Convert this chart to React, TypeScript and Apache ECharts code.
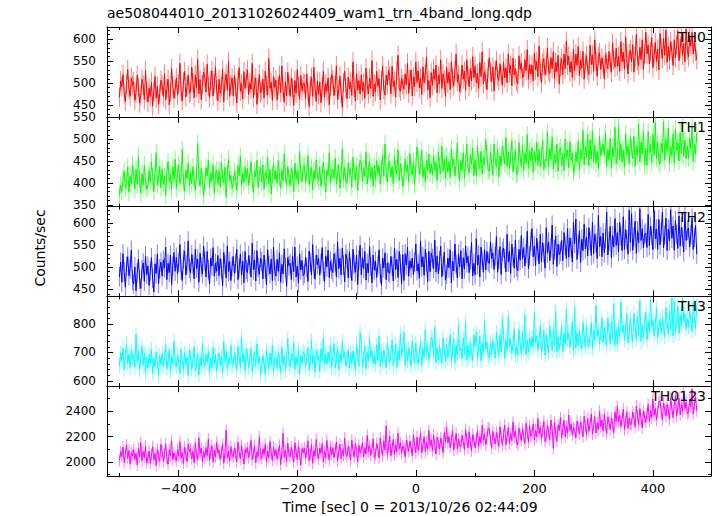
import React, { useEffect, useRef } from 'react';
import * as echarts from 'echarts';

const TITLE = 'ae508044010_20131026024409_wam1_trn_4band_long.qdp';
const X_LABEL = 'Time [sec] 0 = 2013/10/26 02:44:09';
const Y_LABEL = 'Counts/sec';
const panelNames = ['TH0', 'TH1', 'TH2', 'TH3', 'TH0123'];

// time bins (start and width, seconds)
const BIN_START = -500;
const BIN_WIDTH = 2;
const X_MIN = -521;
const X_MAX = 498;
const X_MAJOR = 200;
const X_MINOR = 100;

const th0 = [
  468, 505, 492, 520, 476, 459, 498, 531, 487, 470, 512, 495,
  503, 461, 479, 518, 490, 455, 472, 509, 496, 463, 528, 481,
  457, 489, 470, 502, 448, 481, 515, 466, 493, 452, 476, 507,
  496, 470, 521, 462, 488, 509, 451, 479, 533, 494, 466, 486,
  512, 473, 498, 545, 481, 460, 503, 527, 469, 492, 518, 477,
  482, 536, 501, 467, 519, 490, 554, 476, 508, 463, 497, 525,
  514, 480, 543, 493, 468, 506, 528, 471, 499, 537, 485, 460,
  509, 477, 492, 531, 458, 503, 520, 484, 549, 470, 496, 512,
  471, 518, 490, 455, 507, 535, 482, 499, 464, 526, 488, 511,
  530, 474, 501, 486, 545, 467, 495, 512, 452, 489, 520, 478,
  483, 509, 466, 527, 495, 473, 556, 488, 502, 461, 515, 490,
  507, 462, 494, 518, 479, 539, 485, 457, 503, 471, 525, 496,
  470, 512, 489, 450, 506, 477, 531, 492, 464, 517, 483, 500,
  499, 465, 521, 481, 447, 494, 513, 470, 536, 488, 459, 505,
  474, 503, 456, 490, 527, 468, 499, 482, 512, 451, 493, 520,
  508, 472, 495, 539, 463, 485, 516, 478, 445, 501, 527, 489,
  465, 514, 487, 503, 472, 548, 491, 460, 522, 484, 506, 475,
  519, 482, 501, 466, 534, 495, 476, 512, 488, 551, 470, 498,
  481, 527, 493, 510, 462, 505, 539, 486, 473, 518, 497, 530,
  515, 476, 538, 492, 505, 468, 527, 563, 490, 482, 511, 497,
  486, 521, 497, 545, 477, 509, 530, 471, 514, 492, 548, 502,
  528, 489, 512, 474, 537, 501, 520, 559, 485, 506, 467, 524,
  495, 532, 508, 541, 478, 517, 499, 553, 488, 521, 506, 470,
  536, 500, 525, 485, 548, 511, 494, 529, 566, 503, 519, 481,
  498, 541, 509, 527, 484, 553, 517, 492, 533, 505, 560, 512,
  539, 501, 522, 488, 547, 515, 571, 498, 526, 510, 485, 532,
  558, 525, 503, 537, 482, 529, 551, 514, 506, 544, 517, 496,
  548, 512, 535, 501, 566, 523, 540, 494, 557, 519, 533, 505,
  499, 562, 531, 546, 512, 515, 553, 528, 576, 509, 542, 521,
  541, 505, 568, 530, 549, 515, 584, 527, 501, 545, 556, 519,
  539, 580, 528, 522, 558, 533, 571, 510, 547, 526, 563, 498,
  538, 555, 519, 566, 532, 595, 541, 561, 525, 549, 513, 577,
  528, 566, 540, 583, 517, 551, 534, 572, 509, 545, 562, 530,
  520, 586, 542, 564, 527, 598, 549, 515, 560, 569, 531, 557,
  541, 509, 566, 548, 533, 572, 546, 525, 590, 552, 536, 579,
  538, 561, 527, 594, 549, 570, 532, 605, 556, 521, 567, 575,
  548, 587, 525, 560, 610, 551, 540, 581, 553, 598, 531, 566,
  615, 566, 586, 544, 571, 603, 535, 563, 592, 549, 577, 530,
  612, 578, 555, 601, 563, 620, 547, 583, 552, 594, 571, 540,
  598, 557, 585, 618, 551, 579, 607, 563, 590, 548, 622, 575,
  560, 603, 584, 615, 566, 594, 572, 553,
];

const th1 = [
  372, 395, 381, 410, 426, 388, 402, 437, 379, 415, 398, 443,
  418, 386, 431, 397, 460, 409, 377, 422, 395, 441, 403, 386,
  393, 427, 401, 448, 415, 380, 423, 469, 396, 412, 438, 389,
  431, 397, 415, 372, 426, 449, 403, 419, 385, 437, 408, 454,
  387, 421, 442, 399, 413, 476, 402, 381, 429, 410, 446, 394,
  425, 398, 437, 409, 383, 420, 490, 415, 392, 433, 406, 370,
  401, 435, 416, 452, 389, 423, 404, 441, 377, 418, 430, 396,
  429, 391, 447, 412, 400, 436, 368, 421, 455, 405, 417, 388,
  398, 426, 409, 382, 440, 416, 461, 393, 422, 401, 437, 411,
  433, 395, 420, 449, 403, 378, 428, 414, 452, 390, 419, 436,
  402, 441, 386, 423, 410, 458, 397, 431, 375, 417, 444, 408,
  427, 399, 451, 413, 388, 430, 405, 466, 419, 394, 437, 412,
  394, 433, 417, 380, 445, 408, 427, 398, 472, 421, 403, 439,
  440, 401, 423, 462, 396, 418, 435, 384, 428, 409, 453, 415,
  405, 437, 392, 421, 448, 412, 379, 430, 416, 469, 400, 426,
  432, 410, 456, 397, 424, 441, 388, 419, 477, 408, 435, 402,
  399, 446, 418, 431, 390, 459, 425, 407, 438, 383, 428, 452,
  445, 404, 433, 416, 471, 398, 427, 449, 410, 436, 392, 440,
  408, 451, 421, 440, 397, 432, 463, 415, 489, 423, 402, 446,
  450, 413, 437, 398, 461, 429, 420, 476, 406, 443, 426, 392,
  414, 455, 426, 441, 401, 468, 432, 418, 449, 395, 437, 482,
  458, 419, 439, 475, 412, 436, 403, 452, 428, 466, 421, 444,
  418, 462, 430, 447, 406, 471, 439, 421, 484, 427, 455, 410,
  461, 424, 449, 412, 478, 438, 455, 416, 443, 492, 430, 405,
  451, 430, 469, 411, 446, 488, 435, 423, 466, 441, 480, 417,
  453, 415, 484, 446, 432, 472, 420, 458, 441, 499, 467, 428,
  427, 470, 445, 418, 489, 451, 436, 478, 413, 462, 440, 483,
  466, 443, 504, 437, 471, 432, 458, 497, 425, 449, 477, 419,
  422, 492, 457, 439, 486, 428, 469, 445, 510, 433, 474, 450,
  481, 424, 471, 447, 493, 440, 476, 436, 462, 498, 430, 454,
  450, 516, 437, 479, 455, 505, 431, 466, 444, 489, 426, 473,
  481, 440, 468, 428, 500, 459, 475, 435, 494, 452, 468, 423,
  436, 471, 448, 496, 430, 477, 455, 520, 441, 484, 459, 511,
  440, 499, 455, 518, 448, 486, 445, 472, 433, 506, 462, 480,
  489, 463, 514, 438, 475, 452, 501, 434, 482, 459, 527, 444,
  459, 530, 452, 490, 447, 476, 437, 512, 465, 484, 443, 505,
  479, 456, 506, 437, 486, 462, 534, 448, 493, 466, 519, 441,
  480, 440, 517, 470, 488, 446, 511, 463, 538, 456, 494, 451,
  443, 491, 468, 540, 452, 499, 472, 525, 446, 484, 461, 512,
  445, 523, 473, 492, 450, 515, 468, 536, 461, 498, 455, 484,
  456, 502, 477, 528, 449, 488, 466, 514,
];

const th2 = [
  478, 512, 466, 531, 490, 455, 503, 524, 481, 497, 539, 470,
  462, 501, 447, 488, 519, 473, 452, 495, 510, 468, 526, 484,
  503, 459, 491, 522, 475, 444, 508, 486, 530, 463, 497, 512,
  480, 517, 499, 546, 472, 509, 488, 528, 461, 503, 534, 491,
  523, 485, 511, 552, 494, 470, 518, 537, 483, 506, 560, 497,
  488, 529, 507, 474, 541, 498, 519, 466, 532, 501, 485, 548,
  514, 478, 536, 495, 462, 521, 503, 545, 480, 509, 491, 527,
  481, 520, 497, 458, 534, 506, 476, 549, 490, 513, 470, 502,
  525, 486, 509, 541, 472, 498, 530, 482, 514, 465, 536, 495,
  488, 527, 505, 478, 555, 494, 517, 469, 538, 500, 484, 521,
  513, 474, 528, 496, 461, 540, 504, 485, 519, 470, 546, 492,
  480, 518, 491, 533, 466, 507, 485, 542, 499, 457, 522, 504,
  509, 472, 525, 490, 546, 478, 503, 464, 531, 494, 516, 481,
  486, 523, 500, 468, 537, 511, 483, 552, 497, 473, 528, 506,
  520, 482, 509, 545, 491, 468, 526, 501, 539, 477, 514, 496,
  488, 531, 512, 478, 558, 497, 521, 483, 544, 505, 467, 530,
  519, 476, 535, 498, 470, 541, 507, 489, 528, 461, 517, 550,
  483, 522, 497, 536, 471, 509, 488, 547, 502, 465, 528, 494,
  514, 477, 505, 540, 486, 459, 521, 499, 533, 472, 510, 490,
  486, 525, 502, 469, 544, 495, 518, 477, 536, 508, 463, 529,
  470, 531, 505, 546, 480, 515, 498, 521, 483, 512, 553, 492,
  508, 475, 559, 501, 524, 482, 541, 512, 468, 537, 490, 533,
  520, 497, 562, 489, 526, 485, 515, 548, 479, 503, 535, 471,
  484, 521, 499, 540, 465, 514, 492, 553, 507, 476, 530, 501,
  538, 474, 522, 496, 549, 510, 525, 488, 516, 557, 480, 509,
  483, 565, 505, 528, 478, 546, 517, 489, 540, 494, 536, 512,
  509, 558, 520, 533, 495, 525, 570, 489, 518, 547, 484, 536,
  544, 520, 490, 575, 512, 537, 486, 553, 524, 498, 562, 501,
  492, 541, 516, 572, 520, 545, 503, 531, 582, 497, 526, 560,
  588, 524, 549, 503, 566, 537, 508, 575, 512, 556, 533, 498,
  590, 532, 558, 515, 544, 596, 507, 540, 571, 502, 553, 529,
  536, 561, 515, 579, 549, 520, 588, 523, 567, 545, 512, 603,
  554, 610, 518, 551, 583, 511, 564, 538, 598, 542, 569, 526,
  590, 561, 527, 602, 531, 575, 556, 520, 618, 547, 570, 524,
  578, 533, 565, 625, 528, 559, 593, 521, 572, 546, 611, 550,
  579, 535, 602, 571, 538, 615, 541, 586, 563, 530, 630, 557,
  622, 539, 569, 605, 532, 583, 556, 633, 561, 588, 544, 575,
  578, 545, 620, 549, 593, 572, 540, 628, 565, 587, 541, 609,
  551, 580, 626, 545, 573, 612, 538, 587, 560, 631, 566, 594,
  539, 606, 575, 543, 617, 548, 591, 569, 535, 624, 561, 584,
  589, 546, 574, 612, 541, 568, 595, 530,
];

const th3 = [
  652, 698, 671, 715, 640, 683, 730, 661, 694, 647, 709, 676,
  690, 648, 764, 667, 705, 638, 681, 722, 655, 697, 630, 684,
  645, 693, 662, 711, 627, 679, 650, 702, 668, 619, 688, 657,
  697, 651, 682, 728, 642, 671, 709, 633, 686, 660, 741, 665,
  649, 690, 666, 625, 713, 672, 640, 699, 654, 684, 618, 707,
  688, 641, 674, 720, 636, 663, 698, 621, 681, 652, 733, 670,
  650, 695, 664, 706, 628, 680, 646, 718, 659, 691, 634, 676,
  697, 652, 686, 630, 739, 668, 704, 643, 681, 660, 725, 655,
  658, 701, 671, 639, 722, 684, 648, 756, 667, 693, 635, 712,
  692, 645, 679, 715, 631, 673, 701, 652, 730, 662, 686, 624,
  651, 689, 663, 622, 710, 676, 641, 698, 657, 726, 633, 680,
  686, 643, 702, 667, 628, 719, 656, 690, 637, 675, 748, 661,
  649, 694, 672, 735, 640, 683, 654, 711, 625, 688, 663, 703,
  696, 651, 681, 717, 638, 670, 743, 659, 692, 631, 708, 674,
  688, 633, 714, 672, 752, 660, 695, 656, 701, 668, 725, 647,
  690, 731, 644, 676, 718, 638, 697, 665, 740, 681, 702, 653,
  676, 710, 645, 699, 659, 705, 674, 638, 728, 690, 651, 771,
  737, 648, 682, 722, 642, 701, 670, 748, 684, 706, 660, 693,
  656, 727, 673, 758, 650, 703, 663, 709, 680, 645, 734, 694,
  664, 698, 745, 653, 689, 730, 647, 706, 675, 766, 690, 711,
  771, 655, 709, 669, 716, 684, 652, 741, 700, 661, 733, 678,
  660, 697, 738, 655, 715, 683, 779, 698, 719, 672, 706, 754,
  742, 686, 789, 664, 718, 675, 724, 690, 662, 752, 708, 668,
  728, 680, 713, 763, 669, 705, 748, 663, 724, 691, 797, 706,
  716, 677, 751, 694, 805, 673, 726, 684, 733, 699, 671, 762,
  722, 772, 678, 713, 757, 671, 733, 699, 812, 714, 737, 688,
  682, 735, 692, 742, 708, 680, 771, 726, 686, 761, 703, 819,
  768, 681, 744, 709, 826, 724, 747, 697, 732, 783, 688, 723,
  690, 782, 736, 696, 771, 713, 833, 692, 745, 702, 752, 718,
  755, 719, 840, 734, 758, 707, 743, 795, 698, 733, 779, 691,
  763, 728, 700, 793, 747, 706, 782, 723, 846, 702, 756, 712,
  745, 792, 703, 767, 731, 853, 746, 769, 718, 755, 808, 709,
  861, 714, 769, 723, 776, 740, 712, 806, 760, 718, 795, 736,
  721, 757, 806, 715, 780, 743, 866, 758, 782, 730, 768, 822,
  735, 789, 753, 724, 820, 773, 730, 809, 748, 872, 726, 782,
  728, 794, 756, 878, 771, 796, 743, 782, 838, 734, 770, 821,
  768, 738, 837, 789, 745, 826, 763, 884, 741, 798, 750, 805,
  841, 745, 811, 773, 889, 790, 814, 760, 799, 857, 752, 787,
  818, 768, 824, 787, 756, 858, 808, 764, 846, 781, 893, 759,
  880, 772, 808, 864, 767, 832, 795, 895, 812, 836, 782, 820,
  790, 848, 810, 775, 876, 828, 786, 862,
];

const th0123 = [
  2012, 2080, 2043, 2118, 1996, 2061, 2135, 2028, 2092, 1985, 2074, 2049,
  2097, 2021, 2066, 1978, 2110, 2040, 2152, 2008, 2083, 2036, 2125, 1994,
  2031, 2088, 1990, 2057, 2120, 2015, 2069, 1972, 2102, 2047, 2006, 2139,
  2084, 2005, 2062, 2143, 2026, 1983, 2095, 2052, 2167, 2018, 2073, 2038,
  2010, 2099, 2047, 2160, 2032, 2075, 1989, 2118, 2061, 2003, 2141, 2079,
  2103, 2024, 2087, 1995, 2146, 2058, 2021, 2190, 2066, 2110, 2002, 2081,
  2035, 2114, 2050, 2180, 2013, 2072, 2129, 1999, 2094, 2041, 2155, 2068,
  2096, 2018, 2077, 2138, 1990, 2063, 2250, 2031, 2085, 2007, 2121, 2054,
  2040, 2109, 2066, 2001, 2158, 2075, 2024, 2133, 2052, 1984, 2100, 2071,
  2112, 2033, 2090, 2170, 2016, 2068, 2128, 1993, 2081, 2045, 2197, 2059,
  2027, 2104, 2061, 2140, 2004, 2087, 2035, 2162, 2070, 2012, 2118, 2050,
  2098, 2022, 2074, 2131, 1980, 2069, 2225, 2038, 2093, 2006, 2148, 2060,
  2039, 2115, 2057, 1998, 2152, 2080, 2019, 2124, 2064, 1975, 2106, 2072,
  2108, 2030, 2083, 2166, 2011, 2059, 2137, 1990, 2091, 2046, 2178, 2067,
  2024, 2110, 2068, 2145, 2000, 2085, 2031, 2169, 2073, 2015, 2122, 2057,
  2113, 2034, 2092, 2157, 2009, 2076, 2139, 2026, 2096, 2051, 2188, 2063,
  2045, 2124, 2079, 2016, 2171, 2093, 2038, 2146, 2082, 2002, 2133, 2070,
  2090, 2155, 2040, 2113, 2062, 2209, 2084, 2130, 2051, 2104, 2182, 2033,
  2061, 2145, 2097, 2032, 2190, 2110, 2049, 2167, 2093, 2285, 2058, 2122,
  2203, 2049, 2111, 2178, 2056, 2135, 2080, 2225, 2101, 2152, 2070, 2126,
  2109, 2040, 2170, 2127, 2083, 2165, 2118, 2051, 2213, 2134, 2072, 2196,
  2091, 2149, 2226, 2070, 2132, 2199, 2080, 2158, 2101, 2248, 2124, 2174,
  2088, 2212, 2129, 2063, 2195, 2148, 2101, 2189, 2137, 2075, 2231, 2155,
  2270, 2150, 2200, 2112, 2172, 2250, 2094, 2158, 2224, 2103, 2180, 2127,
  2122, 2210, 2161, 2097, 2255, 2180, 2110, 2238, 2152, 2088, 2216, 2171,
  2112, 2179, 2246, 2121, 2201, 2148, 2290, 2170, 2221, 2134, 2192, 2268,
  2259, 2174, 2108, 2240, 2193, 2142, 2232, 2183, 2120, 2278, 2200, 2131,
  2215, 2291, 2135, 2202, 2270, 2144, 2224, 2170, 2315, 2193, 2245, 2157,
  2134, 2266, 2220, 2168, 2258, 2209, 2145, 2304, 2228, 2156, 2286, 2201,
  2230, 2299, 2172, 2252, 2198, 2343, 2221, 2272, 2183, 2244, 2320, 2161,
  2195, 2287, 2236, 2172, 2330, 2255, 2106, 2312, 2228, 2162, 2293, 2247,
  2348, 2190, 2258, 2327, 2199, 2280, 2226, 2370, 2249, 2301, 2211, 2272,
  2257, 2190, 2322, 2275, 2223, 2316, 2264, 2198, 2360, 2285, 2212, 2342,
  2240, 2302, 2378, 2219, 2287, 2357, 2228, 2310, 2255, 2400, 2278, 2330,
  2244, 2375, 2290, 2222, 2356, 2307, 2255, 2349, 2296, 2230, 2393, 2318,
  2438, 2315, 2367, 2277, 2339, 2415, 2255, 2324, 2395, 2264, 2347, 2292,
  2300, 2394, 2341, 2275, 2440, 2363, 2290, 2421, 2336, 2268, 2402, 2352,
  2310, 2379, 2452, 2320, 2403, 2347, 2495, 2370, 2422, 2331, 2395, 2470,
  2481, 2396, 2330, 2462, 2412, 2360, 2454, 2401, 2335, 2500, 2423, 2350,
  2444, 2521, 2360, 2430, 2503, 2370, 2453, 2398, 2545, 2420, 2472, 2381,
  2395, 2489, 2436, 2574, 2380, 2458, 2512, 2402,
];

// 1-sigma error of each bin, per panel
const errTH0 = 22;
const errTH1 = 20;
const errTH2 = 22;
const errTH3 = 26;
const errTH0123 = 47;

const yMins = [424, 346, 434, 581, 1890];
const yMaxs = [627, 551, 638, 898, 2596];
const yMajor = [50, 50, 50, 100, 200];
const yMinor = [10, 10, 10, 20, 100];

const panelValues = [th0, th1, th2, th3, th0123];
const panelErrors = [errTH0, errTH1, errTH2, errTH3, errTH0123];
const lineColors = ['#ff0000', '#00ff00', '#0000ff', '#00ffff', '#ff00ff'];
const errColors = [
  'rgba(255,0,0,0.5)',
  'rgba(0,255,0,0.5)',
  'rgba(0,0,255,0.5)',
  'rgba(0,255,255,0.5)',
  'rgba(255,0,255,0.5)',
];

const W = 717;
const H = 516;
const GRID_LEFT = 107;
const GRID_RIGHT = 6;
const GRID_TOP = 27;
const PANEL_H = 89.8;
const FONT = '"DejaVu Sans", sans-serif';

function fmt(v: number, step: number): string {
  if (Math.abs(v / step - Math.round(v / step)) > 1e-6) return '';
  return String(v).replace('-', '\u2212');
}

function buildOption() {
  const grids: any[] = [];
  const xAxes: any[] = [];
  const yAxes: any[] = [];
  const series: any[] = [];
  const graphics: any[] = [];

  for (let i = 0; i < 5; i++) {
    const top = GRID_TOP + i * PANEL_H;
    grids.push({
      left: GRID_LEFT,
      right: GRID_RIGHT,
      top,
      height: PANEL_H,
      show: false,
      containLabel: false,
      outerBoundsMode: 'none',
    });

    const mkX = (pos: string, step: number, len: number, major: boolean, label: boolean) => ({
      type: 'value',
      gridIndex: i,
      position: pos,
      min: X_MIN,
      max: X_MAX,
      minInterval: step,
      maxInterval: step,
      splitNumber: Math.round((X_MAX - X_MIN) / step),
      axisLine: { show: major, onZero: false, lineStyle: { color: '#000', width: 1 } },
      axisTick: { show: true, inside: true, length: len, lineStyle: { color: '#000', width: 1 } },
      axisLabel: {
        show: label,
        formatter: (v: number) => fmt(v, step),
        color: '#000',
        fontSize: 13,
        fontFamily: FONT,
        margin: 6,
        showMinLabel: true,
        showMaxLabel: true,
      },
      splitLine: { show: false },
      minorTick: { show: false },
    });
    xAxes.push(
      mkX('bottom', X_MAJOR, 6, true, i === 4),
      mkX('bottom', X_MINOR, 3, false, false),
      mkX('top', X_MAJOR, 6, true, false),
      mkX('top', X_MINOR, 3, false, false),
    );

    const mkY = (pos: string, step: number, len: number, major: boolean, label: boolean) => ({
      type: 'value',
      gridIndex: i,
      position: pos,
      min: yMins[i],
      max: yMaxs[i],
      minInterval: step,
      maxInterval: step,
      splitNumber: Math.round((yMaxs[i] - yMins[i]) / step),
      axisLine: { show: major, onZero: false, lineStyle: { color: '#000', width: 1 } },
      axisTick: { show: true, inside: true, length: len, lineStyle: { color: '#000', width: 1 } },
      axisLabel: {
        show: label,
        formatter: (v: number) => fmt(v, step),
        color: '#000',
        fontSize: 12,
        lineHeight: 10,
        fontFamily: FONT,
        margin: 11,
        showMinLabel: true,
        showMaxLabel: true,
      },
      splitLine: { show: false },
      minorTick: { show: false },
    });
    yAxes.push(
      mkY('left', yMajor[i], 6, true, true),
      mkY('left', yMinor[i], 3, false, false),
      mkY('right', yMajor[i], 6, true, false),
      mkY('right', yMinor[i], 3, false, false),
    );

    const vals = panelValues[i];
    const times = vals.map((_, k) => BIN_START + k * BIN_WIDTH);
    const err = panelErrors[i];
    const errColor = errColors[i];
    series.push({
      type: 'custom',
      xAxisIndex: i * 4,
      yAxisIndex: i * 4,
      clip: true,
      silent: true,
      z: 1,
      data: vals.map((v, k) => [times[k], v, err]),
      renderItem: (_p: any, api: any) => {
        const x = api.value(0);
        const y = api.value(1);
        const e = api.value(2);
        const a = api.coord([x, y - e]);
        const b = api.coord([x, y + e]);
        return {
          type: 'line',
          shape: { x1: a[0], y1: a[1], x2: b[0], y2: b[1] },
          style: { stroke: errColor, lineWidth: 1 },
        };
      },
    });
    series.push({
      type: 'line',
      xAxisIndex: i * 4,
      yAxisIndex: i * 4,
      data: vals.map((v, k) => [times[k], v]),
      showSymbol: false,
      symbol: 'none',
      clip: true,
      silent: true,
      z: 2,
      lineStyle: { color: lineColors[i], width: 1 },
      itemStyle: { color: lineColors[i] },
    });

    graphics.push({
      type: 'text',
      right: W - 706,
      top: top + 3,
      style: {
        text: panelNames[i],
        fill: '#000',
        font: `14px ${FONT}`,
      },
      z: 100,
    });
  }

  graphics.push(
    {
      type: 'text',
      left: 107,
      top: 6,
      style: { text: TITLE, fill: '#000', font: `14px ${FONT}` },
    },
    {
      type: 'text',
      x: 40,
      y: 248,
      rotation: Math.PI / 2,
      style: { text: Y_LABEL, fill: '#000', font: `14px ${FONT}`, align: 'center', verticalAlign: 'middle' },
    },
    {
      type: 'text',
      x: 410,
      y: 507,
      style: { text: X_LABEL, fill: '#000', font: `14px ${FONT}`, align: 'center', verticalAlign: 'middle' },
    },
  );

  return {
    animation: false,
    backgroundColor: '#ffffff',
    grid: grids,
    xAxis: xAxes,
    yAxis: yAxes,
    series,
    graphic: graphics,
  };
}

export default function App() {
  const ref = useRef<HTMLDivElement>(null);
  useEffect(() => {
    if (!ref.current) return;
    const chart = echarts.init(ref.current, undefined, { renderer: 'svg' });
    chart.setOption(buildOption() as any);
    return () => chart.dispose();
  }, []);
  return (
    <div
      ref={ref}
      style={{ position: 'fixed', left: 0, top: 0, width: W, height: H, background: '#fff' }}
    />
  );
}
